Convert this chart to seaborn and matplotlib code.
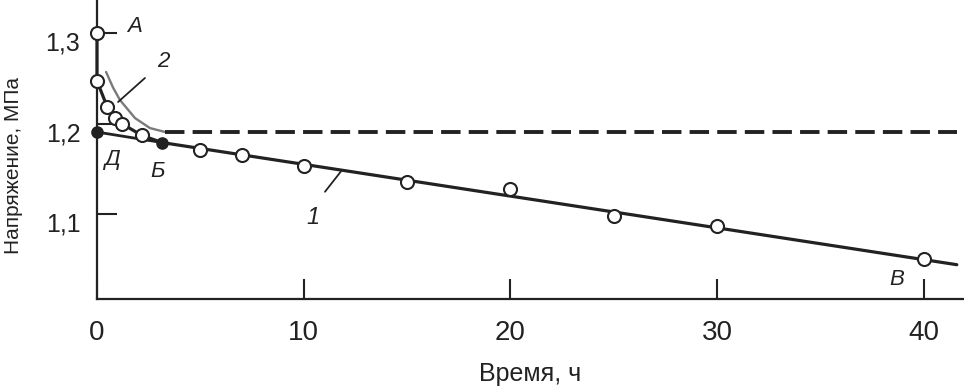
import matplotlib
matplotlib.use("Agg")
import matplotlib.pyplot as plt
import matplotlib.transforms as mtransforms
import numpy as np
import seaborn as sns

# кривая 1 (сплошная): А -> вниз по оси -> изгиб -> Б -> В
line1_t = [0, 0, 0.5, 0.87, 1.19, 2.16, 3.14, 41.6]
line1_v = [1.300, 1.247, 1.218, 1.206, 1.200, 1.187, 1.179, 1.044]

# измеренные точки (светлые кружки)
meas_t = [0, 0, 0.5, 0.87, 1.19, 2.16, 5, 7, 10, 15, 20, 25, 30, 40]
meas_v = [1.300, 1.247, 1.218, 1.206, 1.200, 1.187, 1.171, 1.165, 1.153,
          1.135, 1.128, 1.098, 1.087, 1.050]

# кривая 2 (выход на установившийся уровень)
curve2_t = [0.44, 0.77, 1.11, 1.84, 2.56, 3.3]
curve2_v = [1.257, 1.240, 1.226, 1.206, 1.195, 1.1906]
level_v = 1.1906
level_t = [3.3, 41.6]

# отрезок Д - Б (тёмные точки)
db_t = [0, 3.14]
db_v = [1.1906, 1.179]

x_ticks = [0, 10, 20, 30, 40]
y_ticks = [1.1, 1.2, 1.3]
y_tick_labels = ["1,1", "1,2", "1,3"]

sns.set_theme(style="ticks")
plt.rcParams['font.family'] = ['Liberation Sans', 'DejaVu Sans']

ink = "#222222"

fig = plt.figure(figsize=(9.64, 3.86), dpi=100)
ax = fig.add_axes([97 / 964, 1 - 299 / 386, 866 / 964, 299 / 386])

sns.lineplot(x=curve2_t, y=curve2_v, sort=False, estimator=None, ax=ax,
             color="#7a7a7a", linewidth=1.7, zorder=2)
ax.plot(level_t, [level_v, level_v], color=ink, linewidth=2.8,
        dashes=(5, 2.1), zorder=2)
sns.lineplot(x=db_t, y=db_v, sort=False, estimator=None, ax=ax,
             color=ink, linewidth=2.0, zorder=2)
sns.lineplot(x=line1_t, y=line1_v, sort=False, estimator=None, ax=ax,
             color=ink, linewidth=2.3, zorder=2, clip_on=False)
sns.scatterplot(x=db_t, y=db_v, ax=ax, s=65, color=ink, edgecolor=ink,
                linewidth=1, zorder=4, clip_on=False)
sns.scatterplot(x=meas_t, y=meas_v, ax=ax, s=88, marker="o",
                facecolor="white", edgecolor=ink, linewidth=1.5,
                zorder=5, clip_on=False)

# выноски
ax.plot([2.32, 1.02], [1.2503, 1.2238], color=ink, linewidth=1.3)
ax.plot([11.03, 11.8], [1.1246, 1.147], color=ink, linewidth=1.3)

lab = dict(color=ink, fontstyle="italic", ha="center", va="center")
ax.text(1.84, 1.3077, "А", fontsize=16, **lab)
ax.text(3.22, 1.2685, "2", fontsize=16, **lab)
ax.text(0.73, 1.1597, "Д", fontsize=16, **lab)
ax.text(2.95, 1.1475, "Б", fontsize=16, **lab)
ax.text(10.45, 1.0967, "1", fontsize=17, **lab)
ax.text(38.7, 1.0282, "В", fontsize=16, **lab)

ax.set_xlim(0, 41.9)
ax.set_ylim(1.0061, 1.3365)
ax.set_xticks(x_ticks)
ax.set_yticks(y_ticks)
ax.set_yticklabels(y_tick_labels)
ax.tick_params(axis="both", direction="in", length=14.4, width=1.5,
               colors=ink)
ax.tick_params(axis="x", labelsize=20, pad=15)
ax.tick_params(axis="y", labelsize=18, pad=12)

off = mtransforms.ScaledTranslation(0, -8 / 100, fig.dpi_scale_trans)
for t in ax.get_yticklabels():
    t.set_transform(t.get_transform() + off)

for side in ["top", "right"]:
    ax.spines[side].set_visible(False)
for side in ["left", "bottom"]:
    ax.spines[side].set_linewidth(1.6)
    ax.spines[side].set_color(ink)

ax.set_xlabel("Время, ч", fontsize=18, color=ink, labelpad=12)
ax.set_ylabel("Напряжение, МПа", fontsize=15, color=ink)
ax.yaxis.set_label_coords(-74 / 866, 1 - 165 / 299)

fig.savefig("out.png", dpi=100, facecolor="white")
